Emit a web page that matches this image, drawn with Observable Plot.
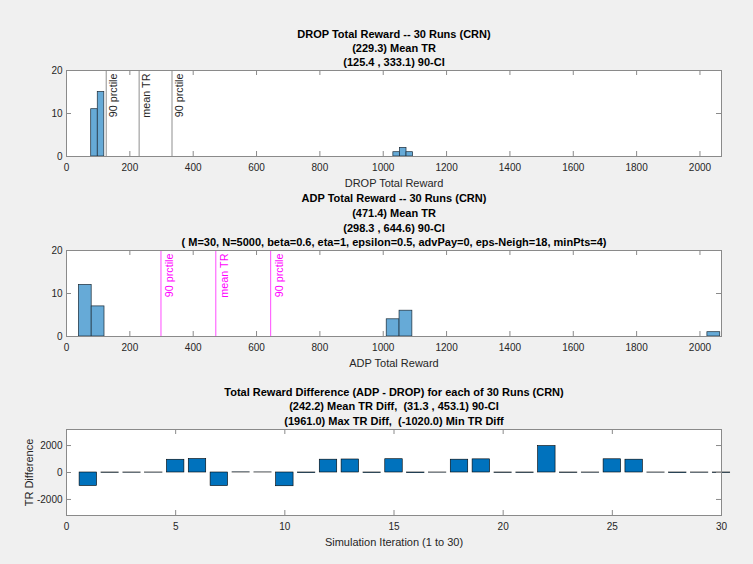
<!DOCTYPE html>
<html><head><meta charset="utf-8">
<script src="https://cdn.jsdelivr.net/npm/d3@7"></script>
<script src="https://cdn.jsdelivr.net/npm/@observablehq/plot@0.6"></script>
<style>
body{margin:0;background:#f0f0f0;}
#fig{position:relative;width:753px;height:564px;background:#f0f0f0;overflow:hidden;}
#fig svg{position:absolute;left:0;}
</style></head><body><div id="fig"></div>
<script>
// ---------- data ----------
const dropBinLo = [78.0, 98.7, 1032.0, 1052.7, 1073.5];
const dropBinHi = [98.7, 119.4, 1052.7, 1073.5, 1094.2];
const dropCounts = [11, 15, 1, 2, 1];
const dropLineValues = [125.4, 229.3, 333.1];
const dropLineLabels = ["90 prctile", "mean TR", "90 prctile"];
const dropTitle = ["DROP Total Reward -- 30 Runs (CRN)", "(229.3) Mean TR", "(125.4 , 333.1) 90-CI"];

const adpBinLo = [39.0, 79.5, 1011.0, 1051.5, 2023.5];
const adpBinHi = [79.5, 120.0, 1051.5, 1092.0, 2064.0];
const adpCounts = [12, 7, 4, 6, 1];
const adpLineValues = [298.3, 471.4, 644.6];
const adpLineLabels = ["90 prctile", "mean TR", "90 prctile"];
const adpTitle = ["ADP Total Reward -- 30 Runs (CRN)", "(471.4) Mean TR", "(298.3 , 644.6) 90-CI",
  "( M=30, N=5000, beta=0.6, eta=1, epsilon=0.5, advPay=0, eps-Neigh=18, minPts=4)"];

const runs = d3.range(1, 31);
const trDiff = [-1000, -20, -15, -10, 945, 1000, -1005, 10, 5, -1020,
                -45, 950, 965, -40, 985, -50, -10, 950, 975, -25,
                -30, 1961, -25, -15, 980, 950, -10, -45, -15, -30];
const diffTitle = ["Total Reward Difference (ADP - DROP) for each of 30 Runs (CRN)",
  "(242.2) Mean TR Diff,  (31.3 , 453.1) 90-CI", "(1961.0) Max TR Diff,  (-1020.0) Min TR Diff"];

const rewardTicks = [0, 200, 400, 600, 800, 1000, 1200, 1400, 1600, 1800, 2000];
const countTicks = [0, 10, 20];
const runTicks = [0, 5, 10, 15, 20, 25, 30];
const diffTicks = [-2000, 0, 2000];

// ---------- helpers ----------
const FONT = '"Liberation Sans", Arial, Helvetica, sans-serif';
const BOX = "#8a8a8a";
const TXT = "#262626";
const W = 753, ML = 66, MR = 32, FH = 86;
const fmt = d => String(d);

function boxMarks(xt, yt, fw) {
  return [
    Plot.ruleX(xt, {x: d => d, insetTop: FH - 5, stroke: BOX}),
    Plot.ruleX(xt, {x: d => d, insetBottom: FH - 5, stroke: BOX}),
    Plot.ruleY(yt, {y: d => d, insetRight: fw - 5, stroke: BOX}),
    Plot.ruleY(yt, {y: d => d, insetLeft: fw - 5, stroke: BOX}),
    Plot.axisX(xt, {anchor: "bottom", tickSize: 0, tickPadding: 7, fontSize: 10, fill: TXT, label: null, tickFormat: fmt}),
    Plot.axisY(yt, {anchor: "left", tickSize: 0, tickPadding: 4, fontSize: 10, fill: TXT, label: null, tickFormat: fmt}),
    Plot.frame({stroke: BOX})
  ];
}
function titleMarks(lines, dys) {
  return lines.map((t, i) => Plot.text([t], {text: d => d, frameAnchor: "top", dy: dys[i],
    textAnchor: "middle", lineAnchor: "middle", fontSize: 11, fontWeight: "bold", fill: "#000"}));
}
function xLabel(t) {
  return Plot.text([t], {text: d => d, frameAnchor: "bottom", dy: 26.5, textAnchor: "middle", lineAnchor: "middle", fontSize: 11, fill: TXT});
}
function place(svg, top) {
  svg.style.top = top + "px";
  document.getElementById("fig").appendChild(svg);
}
const fw = W - ML - MR;

// ---------- panel 1: DROP ----------
const dropBins = dropCounts.map((c, i) => ({lo: dropBinLo[i], hi: dropBinHi[i], c}));
const p1 = Plot.plot({
  width: W, height: 195, marginLeft: ML, marginRight: MR, marginTop: 70, marginBottom: 39,
  style: {background: "transparent", fontFamily: FONT, overflow: "visible"},
  x: {domain: [0, 2068], label: null},
  y: {domain: [0, 20], label: null},
  marks: [
    Plot.frame({fill: "#fff"}),
    Plot.rect(dropBins, {x1: "lo", x2: "hi", y1: 0, y2: "c", fill: "#66aad7", stroke: "#1b2a36", strokeWidth: 0.7}),
    Plot.ruleX(dropLineValues, {x: d => d, stroke: "#8f8f8f", strokeWidth: 1}),
    Plot.text(dropLineValues, {x: d => d, text: (d, i) => dropLineLabels[i], frameAnchor: "top", rotate: -90,
      textAnchor: "end", lineAnchor: "middle", dx: 7.5, dy: 3, fontSize: 10.8, fill: TXT}),
    ...boxMarks(rewardTicks, countTicks, fw),
    ...titleMarks(dropTitle, [-36, -21.7, -7.7]),
    xLabel("DROP Total Reward")
  ]
});
place(p1, 0);

// ---------- panel 2: ADP ----------
const adpBins = adpCounts.map((c, i) => ({lo: adpBinLo[i], hi: adpBinHi[i], c}));
const p2 = Plot.plot({
  width: W, height: 185, marginLeft: ML, marginRight: MR, marginTop: 60, marginBottom: 39,
  style: {background: "transparent", fontFamily: FONT, overflow: "visible"},
  x: {domain: [0, 2068], label: null},
  y: {domain: [0, 20], label: null},
  marks: [
    Plot.frame({fill: "#fff"}),
    Plot.rect(adpBins, {x1: "lo", x2: "hi", y1: 0, y2: "c", fill: "#66aad7", stroke: "#1b2a36", strokeWidth: 0.7}),
    Plot.ruleX(adpLineValues, {x: d => d, stroke: "#ff00ff", strokeOpacity: 0.7, strokeWidth: 1}),
    Plot.text(adpLineValues, {x: d => d, text: (d, i) => adpLineLabels[i], frameAnchor: "top", rotate: -90,
      textAnchor: "end", lineAnchor: "middle", dx: 8.5, dy: 3, fontSize: 10.8, fill: "#ff00ff"}),
    ...boxMarks(rewardTicks, countTicks, fw),
    ...titleMarks(adpTitle, [-51.7, -36.7, -22.3, -7.7]),
    xLabel("ADP Total Reward")
  ]
});
place(p2, 190);

// ---------- panel 3: differences ----------
const diffData = runs.map((r, i) => ({r, v: trDiff[i]}));
const p3 = Plot.plot({
  width: W, height: 189, marginLeft: ML, marginRight: MR, marginTop: 54, marginBottom: 49,
  style: {background: "transparent", fontFamily: FONT, overflow: "visible"},
  x: {domain: [0, 30], label: null},
  y: {domain: [-3190, 3190], label: null},
  marks: [
    Plot.frame({fill: "#fff"}),
    Plot.rect(diffData, {x1: d => d.r - 0.4, x2: d => d.r + 0.4, y1: 0, y2: "v", fill: "#0072bd", stroke: "#000", strokeWidth: 0.6}),
    ...boxMarks(runTicks, diffTicks, fw),
    ...titleMarks(diffTitle, [-36.6, -22.6, -7.6]),
    xLabel("Simulation Iteration (1 to 30)"),
    Plot.text(["TR Difference"], {text: d => d, frameAnchor: "left", dx: -37.5, rotate: -90,
      textAnchor: "middle", lineAnchor: "middle", fontSize: 11, fill: TXT})
  ]
});
place(p3, 375);
</script></body></html>
